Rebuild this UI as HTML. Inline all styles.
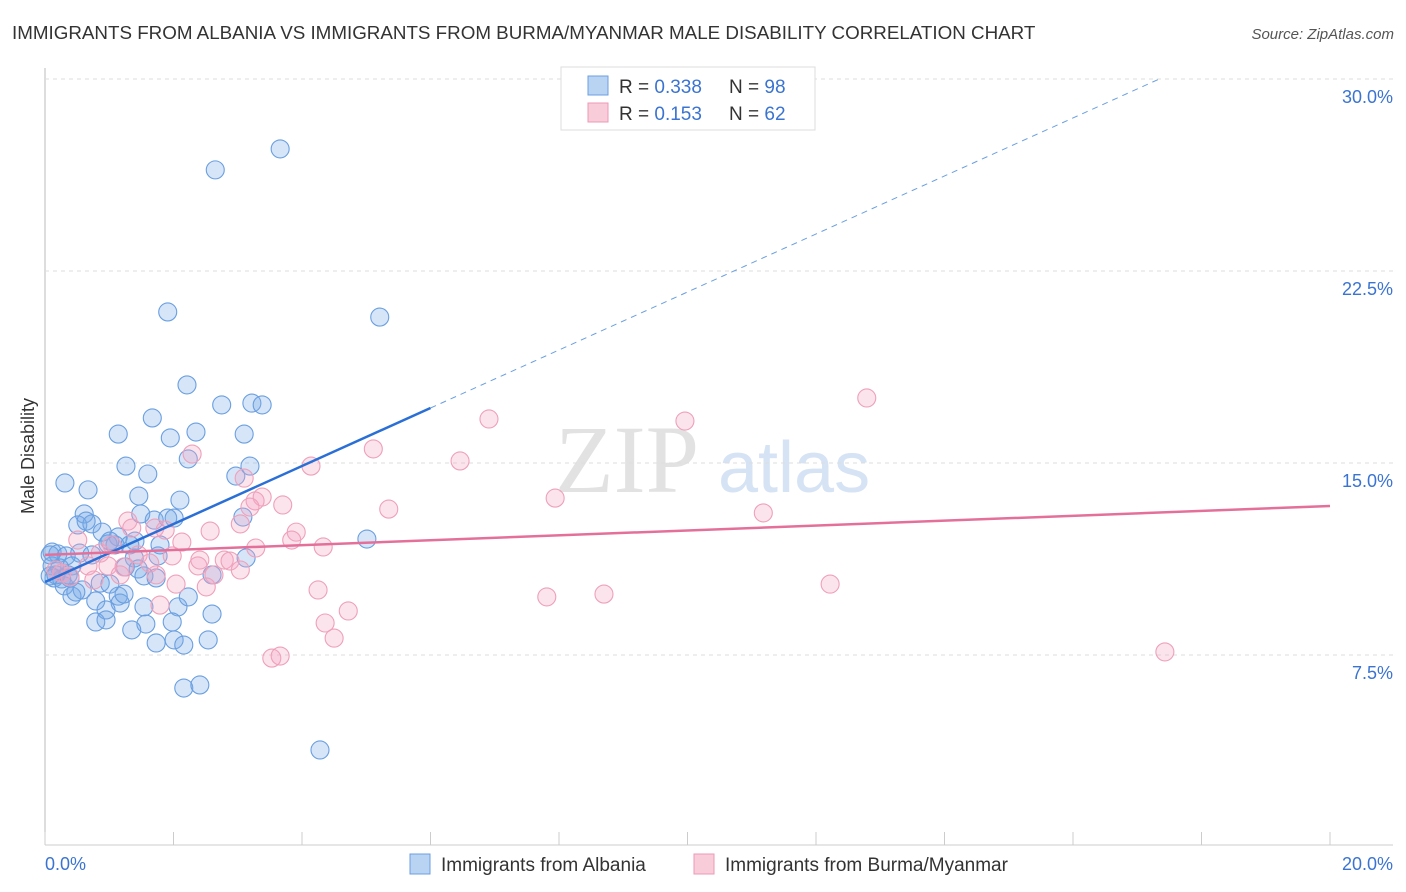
<!DOCTYPE html>
<html><head><meta charset="utf-8"><style>
body{margin:0;background:#fff;font-family:"Liberation Sans",sans-serif;}
svg{display:block}
</style></head><body>
<svg id="c" width="1406" height="892">
<text x="12" y="39" font-size="18.8" fill="#333">IMMIGRANTS FROM ALBANIA VS IMMIGRANTS FROM BURMA/MYANMAR MALE DISABILITY CORRELATION CHART</text>
<text x="1394" y="39" font-size="15" fill="#555" font-style="italic" text-anchor="end">Source: ZipAtlas.com</text>
<text x="34" y="456" font-size="18" fill="#333" text-anchor="middle" transform="rotate(-90 34 456)">Male Disability</text>
<text x="555" y="492" font-size="96" fill="#e2e2e2" font-family="Liberation Serif,serif">ZIP</text>
<text x="718" y="492" font-size="72" fill="#d6e3f5">atlas</text>
<g id="grid"></g><g id="pts"></g><g id="lines"></g>
<g>
<rect x="561" y="67" width="254" height="63" fill="#fff" stroke="#ddd"/>
<rect x="588" y="76" width="20" height="19" fill="#b9d3f3" stroke="#6a9fe0"/>
<rect x="588" y="103" width="20" height="19" fill="#f9ccda" stroke="#ec9ab5"/>
<text x="619" y="93" font-size="19" fill="#333">R = <tspan fill="#3b74d0">0.338</tspan></text>
<text x="729" y="93" font-size="19" fill="#333">N = <tspan fill="#3b74d0">98</tspan></text>
<text x="619" y="120" font-size="19" fill="#333">R = <tspan fill="#3b74d0"> 0.153</tspan></text>
<text x="729" y="120" font-size="19" fill="#333">N = <tspan fill="#3b74d0">62</tspan></text>
</g>
<g>
<rect x="410" y="854" width="20" height="20" fill="#b9d3f3" stroke="#6a9fe0"/>
<text x="441" y="871" font-size="19" fill="#333">Immigrants from Albania</text>
<rect x="694" y="854" width="20" height="20" fill="#f9ccda" stroke="#ec9ab5"/>
<text x="725" y="871" font-size="19" fill="#333">Immigrants from Burma/Myanmar</text>
</g>
</svg>
<script>
const yTicks=[7.5,15,22.5,30];
const yTickLabels=["7.5%","15.0%","22.5%","30.0%"];
const xTickLabels=["0.0%","20.0%"];
const albaniaX=[3.66,2.65,1.91,5.21,2.21,2.75,3.22,3.38,1.67,1.14,2.35,1.95,3.10,2.23,1.26,3.19,1.60,2.97,0.31,0.67,1.46,2.10,0.61,1.49,3.08,1.70,1.91,2.01,0.51,0.73,0.64,0.89,1.14,1.40,0.98,1.09,1.32,1.76,1.39,3.13,5.01,0.11,0.20,0.33,0.54,0.73,0.11,0.23,0.42,1.25,1.45,0.14,0.26,0.39,0.08,1.54,1.73,2.60,0.30,0.58,0.86,1.01,0.42,0.48,1.14,0.79,1.17,1.23,1.54,2.07,0.95,2.23,2.60,0.79,0.95,1.57,1.98,1.35,1.73,2.01,2.16,2.54,2.16,2.41,4.28,0.08,0.17,0.36,1.01,1.79];
const albaniaY=[27.27,26.45,20.90,20.70,18.05,17.27,17.34,17.27,16.76,16.13,16.21,15.98,16.13,15.16,14.88,14.88,14.57,14.49,14.22,13.95,13.71,13.55,13.01,13.01,12.89,12.77,12.85,12.85,12.58,12.62,12.73,12.30,12.11,11.95,11.84,11.80,11.80,11.37,11.29,11.29,12.03,11.52,11.45,11.37,11.48,11.41,10.98,10.90,10.98,10.94,10.86,10.51,10.47,10.51,10.59,10.59,10.51,10.63,10.20,10.04,10.31,10.27,9.80,9.96,9.80,9.61,9.53,9.88,9.38,9.38,9.26,9.77,9.10,8.79,8.87,8.71,8.79,8.48,7.97,8.09,7.89,8.09,6.21,6.33,3.79,11.41,10.63,10.63,11.95,11.80];
const burmaX=[12.79,6.91,9.96,2.29,5.11,4.14,6.46,3.10,7.94,3.38,3.70,5.35,11.18,3.27,1.29,3.19,1.35,1.71,2.57,3.04,1.87,3.91,3.84,4.33,3.28,0.51,1.04,2.13,0.86,1.45,1.98,2.79,2.88,0.67,0.26,0.98,1.23,1.73,2.38,2.63,0.76,2.04,2.51,4.25,12.22,7.81,8.70,4.72,1.79,4.36,4.50,3.53,3.66,17.43,0.17,0.39,2.41,1.17,1.63,3.04];
const burmaY=[17.54,16.72,16.64,15.35,15.55,14.88,15.08,14.41,13.63,13.67,13.36,13.20,13.05,13.52,12.73,13.28,12.46,12.46,12.34,12.62,12.38,12.30,11.99,11.72,11.68,11.99,11.80,11.91,11.48,11.41,11.37,11.21,11.17,10.98,10.70,10.98,10.94,10.63,10.98,10.63,10.43,10.27,10.16,10.04,10.27,9.77,9.88,9.22,9.45,8.75,8.16,7.38,7.46,7.62,10.82,10.55,11.21,10.63,11.09,10.82];
const albaniaFit=[10.35,1.133];
const burmaFit=[11.41,0.0955];
const X=v=>45+v*64.25, Y=v=>847-v*25.6;
const NS="http://www.w3.org/2000/svg";
function mk(t,a,p){const e=document.createElementNS(NS,t);for(const k in a)e.setAttribute(k,a[k]);p.appendChild(e);return e;}
const g=document.getElementById('grid');
mk('line',{x1:45,y1:68,x2:45,y2:845,stroke:'#bbb'},g);
mk('line',{x1:45,y1:845,x2:1393,y2:845,stroke:'#ccc'},g);
yTicks.forEach((t,i)=>{
 const l=mk('line',{x1:45,y1:Y(t),x2:1393,y2:Y(t),stroke:'#ddd','stroke-dasharray':'4,4'},g);
 
 
 const tx=mk('text',{x:1393,y:Y(t)+24,'font-size':18,fill:'#3b74d0','text-anchor':'end'},g);tx.textContent=yTickLabels[i];
 
 
});
for(let k=0;k<=10;k++){const l=mk('line',{x1:X(k*2),y1:832,x2:X(k*2),y2:845,stroke:'#ccc'},g);
 
 }
[[0,'start',45],[20,'end',1393]].forEach((d,i)=>{const t=mk('text',{x:d[2],y:870,'font-size':18,fill:'#3b74d0','text-anchor':d[1]},g);t.textContent=xTickLabels[i];
 
 });
const p=document.getElementById('pts');
albaniaX.forEach((x,i)=>{const c=mk('circle',{cx:X(x),cy:Y(albaniaY[i]),r:9,fill:'rgba(120,168,232,0.3)',stroke:'#6a9fe0','stroke-width':1.1},p);
 
 });
burmaX.forEach((x,i)=>{const c=mk('circle',{cx:X(x),cy:Y(burmaY[i]),r:9,fill:'rgba(245,165,195,0.3)',stroke:'#eea0ba','stroke-width':1.1},p);
 
 });
const L=document.getElementById('lines');
const fa=x=>albaniaFit[0]+albaniaFit[1]*x, fb=x=>burmaFit[0]+burmaFit[1]*x;
let a=mk('line',{x1:X(0),y1:Y(fa(0)),x2:X(6),y2:Y(fa(6)),stroke:'#2a6fd6','stroke-width':2.5},L);


a=mk('line',{x1:X(6),y1:Y(fa(6)),x2:X(17.35),y2:Y(fa(17.35)),stroke:'#6a9fe0','stroke-width':1,'stroke-dasharray':'6,5'},L);


a=mk('line',{x1:X(0),y1:Y(fb(0)),x2:X(20),y2:Y(fb(20)),stroke:'#e4709a','stroke-width':2.5},L);


</script>
</body></html>
